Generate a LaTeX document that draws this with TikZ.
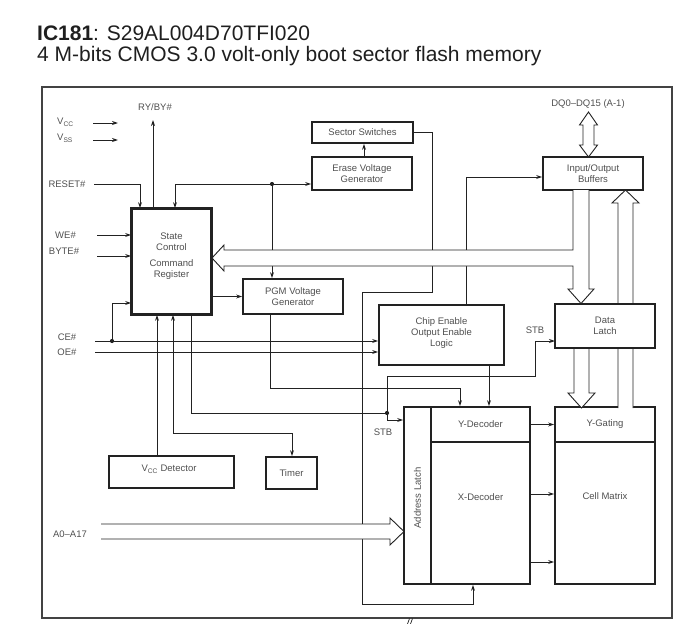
\documentclass[tikz,border=0pt]{standalone}
\usepackage{fontspec}
\setmainfont{Liberation Sans}
\usetikzlibrary{arrows.meta,calc}
\definecolor{tx}{HTML}{505050}
\definecolor{ln}{HTML}{222222}
\begin{document}
\begin{tikzpicture}[x=1pt,y=-1pt,
  box/.style={draw=ln,line width=1.8pt,fill=white,inner sep=0pt,text=tx,font=\fontsize{9.5}{11}\selectfont,align=center},
  txt/.style={text=tx,font=\fontsize{9.5}{11}\selectfont,inner sep=0pt,align=center},
  con/.style={draw=ln,line width=0.9pt},
  arr/.style={con,-{Stealth[length=6pt,width=4pt]}},
  hol/.style={draw=ln,line width=0.9pt,fill=white,line join=miter},
  jdot/.style={circle,fill=ln,inner sep=0pt,minimum size=4.2pt}]
\useasboundingbox (0,0) rectangle (689,624);

% title
\node[anchor=base west,inner sep=0pt,font=\fontsize{21}{25}\selectfont,text=black!88] (t1) at (37,40) {\textbf{IC181}: S29AL004D70TFI020};
\node[anchor=base west,inner sep=0pt,font=\fontsize{21}{25}\selectfont,text=black!88] (t2) at (37,61) {4 M-bits CMOS 3.0 volt-only boot sector flash memory};

% frame
\node[draw=ln!85,line width=1.2pt,minimum width=630,minimum height=531,inner sep=0pt] (frame) at (357,352.5) {};

% ---------- boxes ----------
\node[box,minimum width=101,minimum height=21] (ss) at (362.5,132.5) {Sector Switches};
\node[box,minimum width=100,minimum height=33] (evg) at (362,173.5) {Erase Voltage\\Generator};
\node[box,minimum width=79,minimum height=105] (sc) at (171.5,261.5) {};
\node[box,minimum width=100,minimum height=35] (pgm) at (293,296.5) {PGM Voltage\\Generator};
\node[box,minimum width=125,minimum height=60] (ce) at (441.5,335) {};
\node[box,minimum width=100,minimum height=33] (io) at (593,173.5) {Input/Output\\Buffers};
\node[box,minimum width=125,minimum height=32] (vd) at (171.5,472) {};
\node[box,minimum width=51,minimum height=32] (tm) at (291.5,473) {Timer};
\node[box,minimum width=27,minimum height=177] (al) at (417.5,495.5) {};
\node[box,minimum width=99,minimum height=35] (yd) at (480.5,424.5) {Y-Decoder};
\node[box,minimum width=99,minimum height=142] (xd) at (480.5,513) {};
\node[box,minimum width=100,minimum height=35] (yg) at (605,424.5) {Y-Gating};
\node[box,minimum width=100,minimum height=142] (cm) at (605,513) {};

% ---------- connectors ----------
\node[txt,anchor=west] (lvcc) at (57,122) {V\textsubscript{CC}};
\node[txt,anchor=west] (lvss) at (57,138) {V\textsubscript{SS}};
\coordinate (vcce) at (118,123);
\coordinate (vsse) at (118,140);
\draw[arr] (93,123) -- (vcce);
\draw[arr] (93,140) -- (vsse);

\node[txt] (lry) at (155,107) {RY/BY\#};
\coordinate (ry) at (153,120);
\draw[arr] (ry |- sc.north) -- (ry);

\node[txt] (lrst) at (67,184) {RESET\#};
\draw[arr] (94,184) -- (140,184) -- (140,0 |- sc.north);

\node[jdot] (j1) at (272,184) {};
\draw[arr] (j1) -- (175,184) -- (175,0 |- sc.north);
\draw[arr] (j1) -- (j1 -| evg.west);
\draw[arr] (j1) -- (j1 |- pgm.north);

\draw[arr] (364,0 |- evg.north) -- (364,0 |- ss.south);

\draw[arr] (ss.east) -- (432,0 |- ss.east) -- (432,292) -- (362,292) -- (362,604) -- (473,604) -- (473,0 |- xd.south);

\draw[arr] (466,0 |- ce.north) -- (466,177) -- (466,177 -| io.west);

\node[txt] (lwe) at (65.5,235) {WE\#};
\node[txt] (lbyte) at (64,251) {BYTE\#};
\draw[arr] (97,235) -- (97,235 -| sc.west);
\draw[arr] (97,256) -- (97,256 -| sc.west);

\draw[arr] (sc.east |- pgm.west) -- (pgm.west);

\node[txt] (lce) at (67,337) {CE\#};
\node[txt] (loe) at (67,352) {OE\#};
\draw[arr] (95,341) -- (95,341 -| ce.west);
\draw[arr] (95,352) -- (95,352 -| ce.west);
\node[jdot] (j3) at (112,341) {};
\draw[arr] (j3) -- (112,303) -- (112,303 -| sc.west);

\draw[arr] (489,0 |- ce.south) -- (489,0 |- yd.north);
\draw[arr] (270,0 |- pgm.south) -- (270,388) -- (460,388) -- (460,0 |- yd.north);

\node[jdot] (j2) at (387,413) {};
\draw[con] (191,0 |- sc.south) -- (191,413) -- (j2);
\draw[arr] (j2) -- (387,420) -- (387,420 -| al.west);
\draw[arr] (j2) -- (387,376) -- (535,376) -- (535,341) -- (535,341 -| 555,0);
\node[txt] (lstb1) at (535,330) {STB};
\node[txt] (lstb2) at (383,432) {STB};

\draw[arr] (173,433) -- (173,0 |- sc.south);
\draw[arr] (173,433) -- (292,433) -- (292,0 |- tm.north);
\draw[arr] (157,0 |- vd.north) -- (157,0 |- sc.south);

\draw[arr] (yd.east) -- (yg.west);
\draw[arr] (xd.east |- 0,494) -- (cm.west |- 0,494);
\draw[arr] (xd.east |- 0,562) -- (cm.west |- 0,562);

% ---------- hollow bus arrows ----------
\draw[hol] (573,190) -- (573,250) -- (224,250) -- (224,245) -- (212,258) -- (224,271) -- (224,266) -- (573,266) -- (573,289) -- (568,289) -- (581,303.5) -- (594,289) -- (589,289) -- (589,190);
\draw[hol] (618,408) -- (618,203) -- (612,203) -- (625.5,190) -- (639,203) -- (633,203) -- (633,408);
\draw[hol] (574,348) -- (574,393) -- (568,393) -- (581.5,408) -- (595,393) -- (589,393) -- (589,348);
\draw[hol] (583,125) -- (579.5,125) -- (588.5,112) -- (597.5,125) -- (594,125) -- (594,145) -- (597.5,145) -- (588.5,157) -- (579.5,145) -- (583,145) -- cycle;
\node[txt] (ldq) at (588,104) {DQ0–DQ15 (A-1)};
\draw[hol] (101,524) -- (390,524) -- (390,518) -- (404,531.5) -- (390,545) -- (390,539) -- (101,539);
\node[txt] (la) at (70,534) {A0–A17};

% ---------- boxes drawn on top ----------
\node[box,minimum width=100,minimum height=44] (dl) at (605,326) {Data\\Latch};
\draw[draw=ln,line width=1.8pt] (sc.north west) rectangle (sc.south east);
\node[txt] (sct) at (171.5,256) {State\\Control\\[5pt]Command\\Register};
\node[txt] (cet) at (441.5,333) {Chip Enable\\Output Enable\\Logic};
\node[txt] (vdt) at (169,469) {V\textsubscript{CC} Detector};
\node[txt,rotate=90] (alt) at (417.5,498) {Address Latch};
\node[txt] (xdt) at (480.5,497) {X-Decoder};
\node[txt] (cmt) at (605,496) {Cell Matrix};

% stray mark below frame
\draw[ln,line width=0.7pt] (407.5,624) -- (409.5,618.5) (410.5,624) -- (412.5,618.5);
\end{tikzpicture}
\end{document}
